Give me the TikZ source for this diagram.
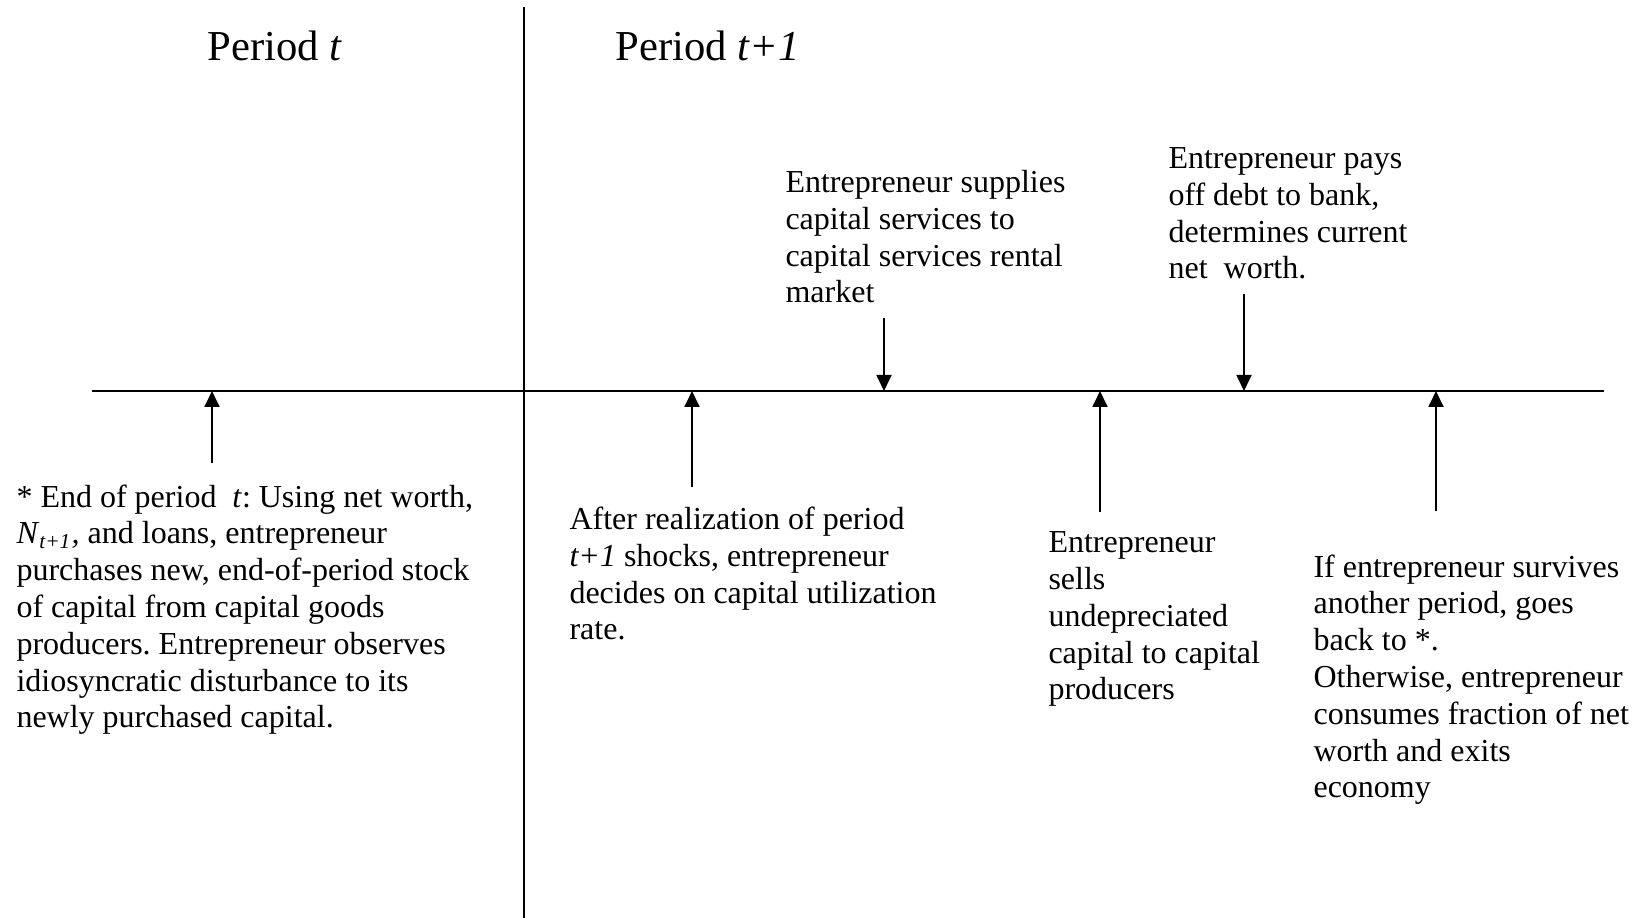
\documentclass[tikz,border=0pt]{standalone}
\usepackage{fontspec}
\setmainfont{Liberation Serif}
\usetikzlibrary{arrows.meta}
\frenchspacing

\begin{document}
\begin{tikzpicture}[x=0.375pt,y=-0.375pt]
	\tikzstyle{every node}=[font=\fontsize{12}{13.8}\selectfont, inner sep=0pt, align=left]
	\tikzstyle{event}=[anchor=base west]
	\tikzstyle{tick}=[-{Triangle[length=6pt,width=5.6pt]}, line width=0.75pt]
	\useasboundingbox (0,0) rectangle (1644,918);
	
	% time line and border between the periods
	\coordinate (L) at (92,391);
	\coordinate (R) at (1604,391);
	\coordinate (top) at (524,7);
	\coordinate (bot) at (524,918);
	\draw[line width=0.75pt] (L) -- (R);
	\draw[line width=0.75pt] (top) -- (bot);
	
	\node[event, font=\fontsize{16}{18}\selectfont] (pt) at (207,61) {Period \textit{t}};
	\node[event, font=\fontsize{16}{18}\selectfont] (ptt) at (615,61) {Period \textit{t+1}};
	
	% events (base = last line)
	\node[event] (buy) at (16,728) {* End of period~~\textit{t}: Using net worth,\\
		\textit{N}\textsubscript{\textit{t+1}}\textit{,} and loans, entrepreneur\\
		purchases new, end-of-period stock\\
		of capital from capital goods\\
		producers. Entrepreneur observes\\
		idiosyncratic disturbance to its\\
		newly purchased capital.};
	\node[event] (shock) at (569,640) {After realization of period\\
		\textit{t+1} shocks, entrepreneur\\
		decides on capital utilization\\
		rate.};
	\node[event] (rent) at (785,303) {Entrepreneur supplies\\
		capital services to\\
		capital services rental\\
		market};
	\node[event] (sell) at (1048,700) {Entrepreneur\\
		sells\\
		undepreciated\\
		capital to capital\\
		producers};
	\node[event] (debt) at (1168,279) {Entrepreneur pays\\
		off debt to bank,\\
		determines current\\
		net~~worth.};
	\node[event] (exit) at (1313,798) {If entrepreneur survives\\
		another period, goes\\
		back to *.\\
		Otherwise, entrepreneur\\
		consumes fraction of net\\
		worth and exits\\
		economy};
	
	% arrows to the time line
	\coordinate (a1) at (212,391);  \coordinate (a1s) at (212,463);
	\coordinate (a2) at (692,391);  \coordinate (a2s) at (692,487);
	\coordinate (a3) at (884,391);  \coordinate (a3s) at (884,318);
	\coordinate (a4) at (1100,391); \coordinate (a4s) at (1100,512);
	\coordinate (a5) at (1244,391); \coordinate (a5s) at (1244,294);
	\coordinate (a6) at (1436,391); \coordinate (a6s) at (1436,511);
	\foreach \i in {1,...,6}
		\draw[tick] (a\i s) -- (a\i);
	
\end{tikzpicture}
\end{document}
